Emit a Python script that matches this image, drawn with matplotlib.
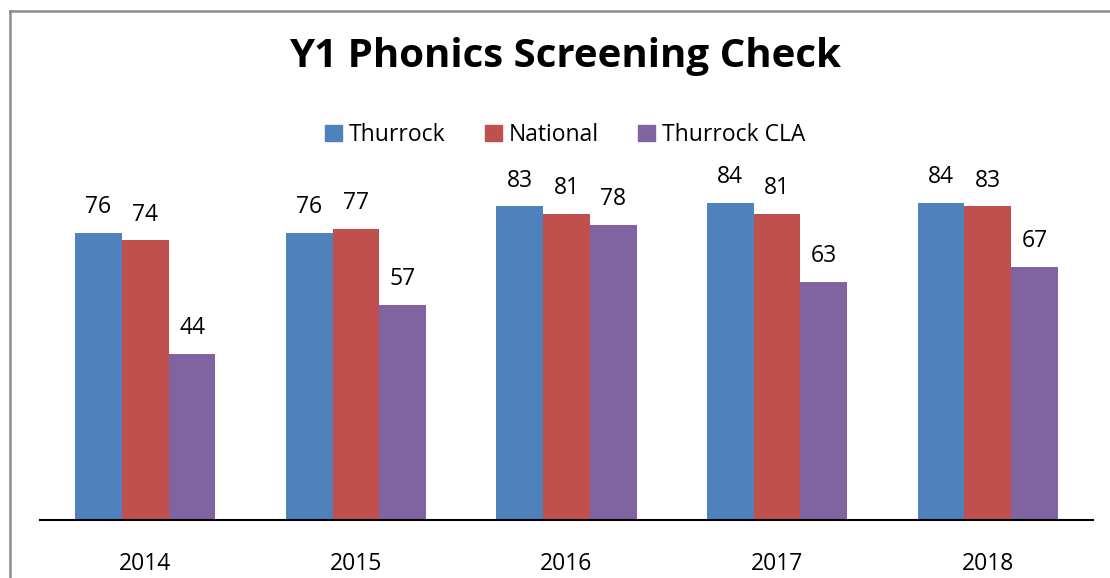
import matplotlib
matplotlib.use("Agg")
import matplotlib.pyplot as plt
from matplotlib.lines import Line2D
import numpy as np

years = ["2014", "2015", "2016", "2017", "2018"]
series_names = ["Thurrock", "National", "Thurrock CLA"]
thurrock = [76, 76, 83, 84, 84]
national = [74, 77, 81, 81, 83]
thurrock_cla = [44, 57, 78, 63, 67]
colors = ["#4F81BD", "#C0504D", "#8064A2"]

plt.rcParams['font.family'] = ['Open Sans', 'DejaVu Sans']

W, H = 1110, 578
fig = plt.figure(figsize=(W / 100, H / 100), dpi=100)

def fx(px):
    return px / W

def fy(py):
    return 1 - py / H

ax = fig.add_axes([fx(40), fy(520), fx(1093) - fx(40), fy(180) - fy(520)])
x = np.arange(len(years))
bw = 0.222
data = [thurrock, national, thurrock_cla]
for i, (vals, c, name) in enumerate(zip(data, colors, series_names)):
    bars = ax.bar(x + (i - 1) * bw, vals, width=bw, color=c, label=name, zorder=2)
    for b, v in zip(bars, vals):
        ax.annotate(str(v), (b.get_x() + b.get_width() / 2, v), xytext=(0, 10),
                    textcoords="offset points", ha="center", va="bottom", fontsize=16.5)

ax.set_xlim(-0.5, len(years) - 0.5)
ax.set_ylim(0, 90)
ax.set_yticks([])
ax.set_xticks(x)
ax.set_xticklabels(years, fontsize=16.5)
ax.tick_params(axis="x", length=0, pad=23)
for s in ["top", "right", "left"]:
    ax.spines[s].set_visible(False)
ax.spines["bottom"].set_linewidth(1.5)
ax.spines["bottom"].set_color("black")

fig.text(fx(565), fy(57), "Y1 Phonics Screening Check", ha="center", va="center",
         fontsize=29, fontweight="bold")

handles = [plt.Rectangle((0, 0), 1, 1, color=c) for c in colors]
fig.legend(handles, series_names, loc="center", bbox_to_anchor=(fx(565), fy(135)),
           ncol=3, frameon=False, fontsize=16.5, handlelength=0.75, handleheight=0.75,
           handletextpad=0.3, columnspacing=1.7)

# outer border (partially cropped)
fig.add_artist(Line2D([fx(10), fx(10)], [fy(11), 0], color="#8c8c8c", lw=1.8))
fig.add_artist(Line2D([fx(10), 1], [fy(11), fy(11)], color="#8c8c8c", lw=1.8))

fig.savefig("out.png", dpi=100)
